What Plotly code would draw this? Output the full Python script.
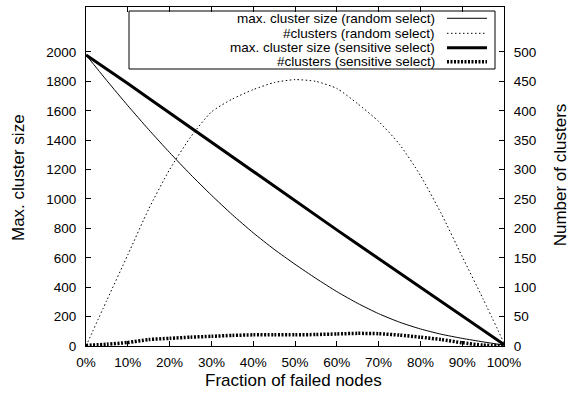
import plotly.graph_objects as go

# Data (fraction of failed nodes)
fraction = [0.00, 0.05, 0.10, 0.15, 0.20, 0.25, 0.30, 0.35, 0.40, 0.45, 0.50,
            0.55, 0.60, 0.65, 0.70, 0.75, 0.80, 0.85, 0.90, 0.95, 1.00]

max_size_random = [1980, 1805, 1635, 1472, 1316, 1167, 1026, 893, 770, 658, 556,
                   460, 370, 290, 220, 162, 116, 80, 52, 28, 6]
clusters_random = [0, 78, 155, 233, 300, 355, 398, 420, 436, 448, 453,
                   450, 438, 412, 382, 343, 290, 225, 152, 80, 5]
max_size_sensitive = [1980, 1885, 1785, 1685, 1585, 1485, 1385, 1285, 1185, 1085, 985,
                      888, 790, 692, 595, 497, 400, 302, 205, 107, 10]
clusters_sensitive = [1, 3, 6, 11, 13, 15, 16.5, 18, 19, 19, 19,
                      19.5, 20.5, 21.5, 21, 18.5, 15, 11, 5.5, 1.5, 0.5]

legend_labels = ["max. cluster size (random select)",
                 "#clusters (random select)",
                 "max. cluster size (sensitive select)",
                 "#clusters (sensitive select)"]

x_ticks = [0.0, 0.1, 0.2, 0.3, 0.4, 0.5, 0.6, 0.7, 0.8, 0.9, 1.0]
x_tick_text = ["0%", "10%", "20%", "30%", "40%", "50%", "60%", "70%", "80%", "90%", "100%"]
y1_ticks = [0, 200, 400, 600, 800, 1000, 1200, 1400, 1600, 1800, 2000]
y2_ticks = [0, 50, 100, 150, 200, 250, 300, 350, 400, 450, 500]

FONT = "Liberation Sans, Arial, sans-serif"
styles = [
    dict(color="black", width=1, dash="solid"),
    dict(color="black", width=1, dash="1.5px,2.5px"),
    dict(color="black", width=3, dash="solid"),
    dict(color="black", width=3.5, dash="2px,1.5px"),
]

fig = go.Figure()
fig.add_trace(go.Scatter(x=fraction, y=max_size_random, mode="lines", line=dict(**styles[0], shape="spline", smoothing=0.6),
                         name=legend_labels[0], yaxis="y"))
fig.add_trace(go.Scatter(x=fraction, y=clusters_random, mode="lines", line=dict(**styles[1], shape="spline", smoothing=0.6),
                         name=legend_labels[1], yaxis="y2"))
fig.add_trace(go.Scatter(x=fraction, y=max_size_sensitive, mode="lines", line=dict(**styles[2]),
                         name=legend_labels[2], yaxis="y"))
fig.add_trace(go.Scatter(x=fraction, y=clusters_sensitive, mode="lines", line=dict(**styles[3], shape="spline", smoothing=0.6),
                         name=legend_labels[3], yaxis="y2"))

# Custom gnuplot-style legend (text right-aligned, sample to the right)
row_y = [0.9667, 0.9224, 0.880, 0.8386]
shapes = [dict(type="rect", xref="paper", yref="paper", x0=0.1029, x1=0.9785, y0=0.8171, y1=0.9882,
               line=dict(color="black", width=1), fillcolor="rgba(0,0,0,0)")]
annotations = []
for lbl, st, yy in zip(legend_labels, styles, row_y):
    annotations.append(dict(text=lbl, xref="paper", yref="paper", x=0.8397, y=yy, xanchor="right",
                            yanchor="middle", showarrow=False, font=dict(family=FONT, size=13.5, color="black")))
    shapes.append(dict(type="line", xref="paper", yref="paper", x0=0.8636, x1=0.9593, y0=yy, y1=yy,
                       line=dict(color=st["color"], width=st["width"], dash=st["dash"])))

annotations += [
    dict(text="Fraction of failed nodes", xref="paper", yref="paper", x=0.4976, y=-0.103,
         xanchor="center", yanchor="middle", showarrow=False, font=dict(family=FONT, size=17, color="black")),
    dict(text="Max. cluster size", xref="paper", yref="paper", x=-0.1627, y=0.4985, textangle=-90,
         xanchor="center", yanchor="middle", showarrow=False, font=dict(family=FONT, size=17, color="black")),
    dict(text="Number of clusters", xref="paper", yref="paper", x=1.136, y=0.506, textangle=-90,
         xanchor="center", yanchor="middle", showarrow=False, font=dict(family=FONT, size=17, color="black")),
]

axis_common = dict(showgrid=False, zeroline=False, showline=True, linecolor="black", linewidth=1,
                   ticks="inside", ticklen=5, tickcolor="black", tickwidth=1,
                   tickfont=dict(family=FONT, size=13.5, color="black"))

fig.update_layout(
    width=569, height=394,
    margin=dict(l=86, r=65, t=7, b=48, autoexpand=False),
    paper_bgcolor="white", plot_bgcolor="white",
    showlegend=False,
    xaxis=dict(range=[0, 1], tickvals=x_ticks, ticktext=x_tick_text, mirror="ticks",
               ticklabelstandoff=4, **axis_common),
    yaxis=dict(range=[0, 2306], tickvals=y1_ticks, ticklabelstandoff=6, **axis_common),
    yaxis2=dict(range=[0, 576.5], tickvals=y2_ticks, overlaying="y", side="right",
                ticklabelstandoff=6, **axis_common),
    shapes=shapes,
    annotations=annotations,
)

# Remove the default page margin so the figure fills the 569x394 window exactly
fig.write_html("out.html",
               config={"displayModeBar": False},
               post_script="document.body.style.margin='0px';document.body.style.overflow='hidden';")
